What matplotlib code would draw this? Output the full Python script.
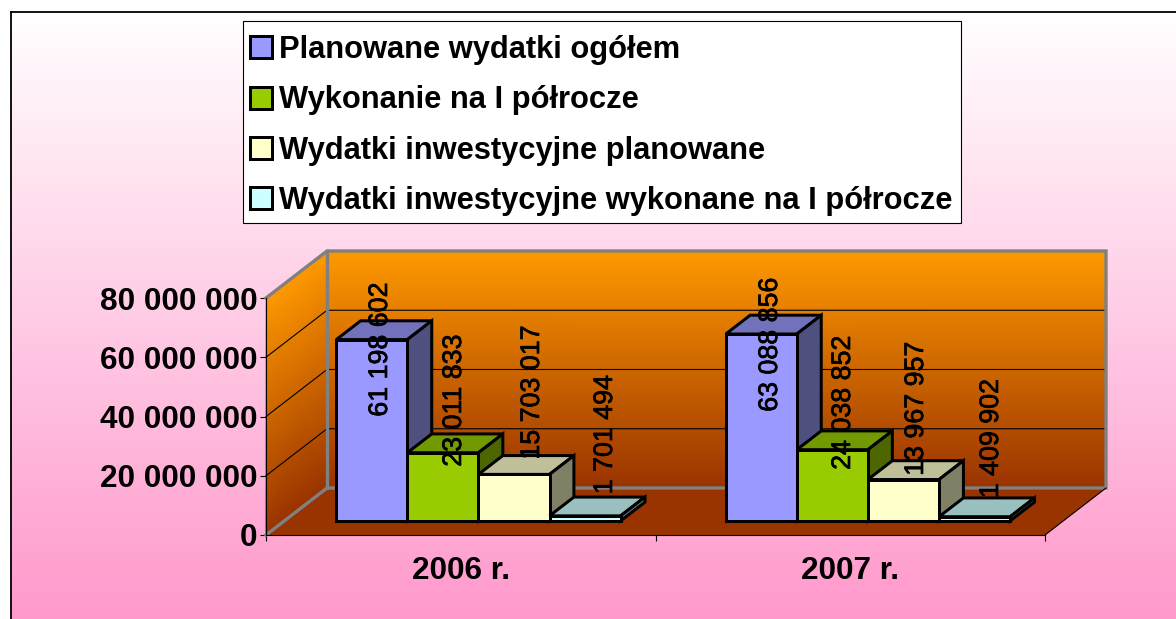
import numpy as np
import matplotlib
matplotlib.use("Agg")
import matplotlib.pyplot as plt
import matplotlib.patheffects as pe
from matplotlib.colors import LinearSegmentedColormap
from matplotlib.patches import Rectangle
from matplotlib.transforms import Affine2D

plt.rcParams['font.family'] = ['Liberation Sans', 'DejaVu Sans']

# data
categories = ["2006 r.", "2007 r."]
series_names = ["Planowane wydatki ogółem", "Wykonanie na I półrocze",
                "Wydatki inwestycyjne planowane", "Wydatki inwestycyjne wykonane na I półrocze"]
planowane = [61198602, 63088856]
wykonanie = [23011833, 24038852]
inw_plan = [15703017, 13967957]
inw_wyk = [1701494, 1409902]
series = [planowane, wykonanie, inw_plan, inw_wyk]
y_ticks = [0, 20000000, 40000000, 60000000, 80000000]

# style
front = ["#9999FF", "#99CC00", "#FFFFCC", "#CCFFFF"]
top = ["#7272BC", "#729900", "#BFBF99", "#99BFBF"]
side = ["#4F4F80", "#4D6600", "#808066", "#668080"]
W, H = 1176, 619
EDGE = 2.16
# hand-placed label centres, pixels
label_x = [[380, 454, 532, 605], [770, 843, 916, 991]]
label_y = [[350, 401, 393, 435], [345, 403, 409, 439]]

fig = plt.figure(figsize=(W / 100, H / 100), dpi=100, facecolor="white")
px = Affine2D().scale(1 / W, -1 / H).translate(0, 1) + fig.transFigure

# page background
bgl, bgt = 10.5, 11.5
bg = fig.add_axes([bgl / W, 0, 1 - bgl / W, 1 - bgt / H], zorder=0)
page = LinearSegmentedColormap.from_list("page", ["#FFFFFF", "#FF99CC"])
bg.imshow(np.linspace(0, 1, 256)[:, None], aspect="auto", cmap=page, vmin=0, vmax=1)
bg.set_xticks([]); bg.set_yticks([])
for s in ("right", "bottom"):
    bg.spines[s].set_visible(False)
for s in ("left", "top"):
    bg.spines[s].set_linewidth(1.3)

ax = fig.add_axes([266 / W, (H - 535) / H, 779 / W, 237 / H], zorder=1)
ax.patch.set_alpha(0)
ymax = y_ticks[-1]
ax.set_xlim(-0.5, 1.5)
ax.set_ylim(0, ymax)
DX = 61 / 389.5
DY = 47 / 237 * ymax
x0, x1 = -0.5, 1.5
wall = LinearSegmentedColormap.from_list("wall", ["#993300", "#FF9900"])

# walls and floor
ax.pcolormesh([[x0 + DX, x1 + DX], [x0 + DX, x1 + DX]], [[DY, DY], [ymax + DY, ymax + DY]],
              [[0, 0], [1, 1]], shading="gouraud", cmap=wall, vmin=0, vmax=1, clip_on=False, zorder=1)
ax.pcolormesh([[x0, x0 + DX], [x0, x0 + DX]], [[0, DY], [ymax, ymax + DY]],
              [[0, 0], [1, 1]], shading="gouraud", cmap=wall, vmin=0, vmax=1, clip_on=False, zorder=1)
ax.fill([x0, x1, x1 + DX, x0 + DX], [0, 0, DY, DY], color="#993300", lw=0, clip_on=False, zorder=1)

for v in y_ticks[1:-1]:
    ax.plot([x0, x0 + DX, x1 + DX], [v, v + DY, v + DY], color="black", lw=0.8, clip_on=False, zorder=2)
gray = dict(color="#808080", lw=2.4, clip_on=False, zorder=3, solid_joinstyle="miter")
ax.plot([x0, x0 + DX, x1 + DX, x1 + DX, x0 + DX, x0], [ymax, ymax + DY, ymax + DY, DY, DY, 0], **gray)
ax.plot([x0 + DX, x0 + DX], [DY, ymax + DY], **gray)
ax.plot([x1, x1 + DX], [0, DY], color="black", lw=0.8, clip_on=False, zorder=3)

# bars
n = len(series)
bw = 0.1825
d0, d1 = 0.29, 0.69
xpos = np.arange(len(categories))
z = 10
handles = []
for i in range(n):
    vals = np.array(series[i], float)
    left = xpos - n * bw / 2 + i * bw + d0 * DX
    base = 0.3 * DY
    dx = (d1 - d0) * DX
    dy = (d1 - d0) * DY
    for l, v in zip(left, vals):
        ax.fill([l, l + bw, l + bw + dx, l + dx], [base + v, base + v, base + v + dy, base + v + dy],
                facecolor=top[i], edgecolor="black", lw=EDGE, clip_on=False, zorder=z, joinstyle="miter")
        ax.fill([l + bw, l + bw + dx, l + bw + dx, l + bw], [base, base + dy, base + v + dy, base + v],
                facecolor=side[i], edgecolor="black", lw=EDGE, clip_on=False, zorder=z, joinstyle="miter")
    h = ax.bar(left, vals, width=bw, bottom=base, align="edge", color=front[i], edgecolor="black",
               linewidth=EDGE, clip_on=False, zorder=z + 1, label=series_names[i], joinstyle="miter")
    handles.append(h)
    z += 2

# value labels
for c in range(len(categories)):
    for i in range(n):
        txt = f"{series[i][c]:,}".replace(",", " ")
        ax.text(label_x[c][i], label_y[c][i], txt, transform=px, rotation=90, ha="center", va="center",
                fontsize=19.3, color="black", zorder=50, clip_on=False,
                path_effects=[pe.withStroke(linewidth=0.5, foreground="black")])

# axes
for s in ("top", "right"):
    ax.spines[s].set_visible(False)
for s in ("left", "bottom"):
    ax.spines[s].set_linewidth(0.8)
    ax.spines[s].set_zorder(4)
ax.set_yticks(y_ticks)
ax.set_yticklabels([f"{t:,}".replace(",", " ") for t in y_ticks], fontsize=22.7, fontweight="bold")
ax.tick_params(axis="y", length=4, width=0.8, pad=2)
ax.set_xticks([x0, 0.5, x1])
ax.set_xticklabels([])
ax.set_xticks(xpos, labels=categories, minor=True, fontsize=22.7, fontweight="bold")
ax.tick_params(axis="x", which="major", length=4, width=0.8)
ax.tick_params(axis="x", which="minor", length=0, pad=15)

# legend box and legend
ax.add_patch(Rectangle((243, 21), 718, 202, transform=px, facecolor="white", edgecolor="black",
                       lw=0.8, clip_on=False, zorder=59))
leg = ax.legend(handles=handles, loc="upper left", bbox_to_anchor=(249.5 / W, 1 - 35 / H),
                bbox_transform=fig.transFigure, borderaxespad=0, frameon=False,
                prop=dict(size=22.2, weight="bold"), handlelength=0.72, handleheight=0.72,
                handletextpad=0.25, labelspacing=0.66, borderpad=0)
leg.set_zorder(60)

fig.savefig("out.png", dpi=100)
